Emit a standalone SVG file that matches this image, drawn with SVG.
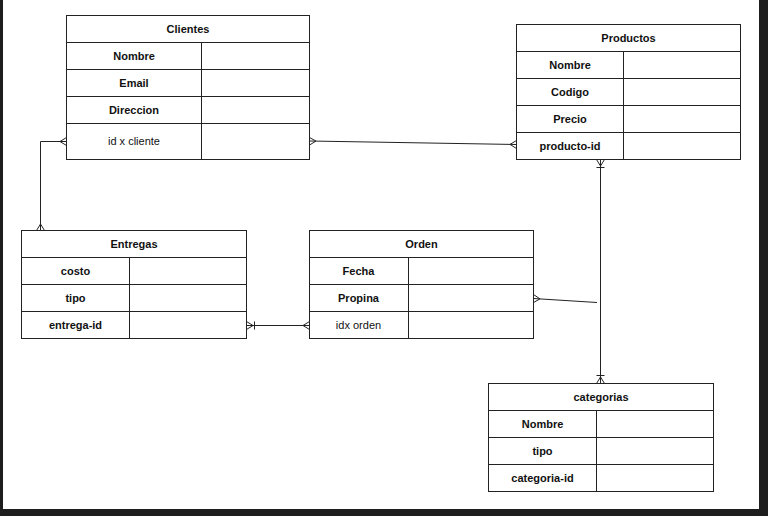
<svg xmlns="http://www.w3.org/2000/svg" width="768" height="516" viewBox="0 0 768 516">
<style>
.box{fill:#fff;stroke:#222;stroke-width:1}
.ln{fill:none;stroke:#222;stroke-width:1}
.t{font-family:"Liberation Sans",Arial,sans-serif;font-size:11px;fill:#111;text-anchor:middle}
.b{font-weight:bold}
</style>
<rect x="0" y="0" width="768" height="516" fill="#fff"/>
<rect x="0" y="0" width="3" height="516" fill="#1e1e1e"/>
<rect x="759" y="0" width="9" height="516" fill="#1e1e1e"/>
<rect x="0" y="509" width="768" height="7" fill="#1e1e1e"/>

<g id="clientes">
<rect class="box" x="66.5" y="15.5" width="243" height="144"/>
<path class="ln" d="M66.5 42.5H309.5M66.5 69.5H309.5M66.5 96.5H309.5M66.5 123.5H309.5M201.5 42.5V159.5"/>
<text class="t b" x="188" y="32.5">Clientes</text>
<text class="t b" x="134" y="59.5">Nombre</text>
<text class="t b" x="134" y="86.5">Email</text>
<text class="t b" x="134" y="113.5">Direccion</text>
<text class="t" x="134" y="145">id x cliente</text>
</g>

<g id="productos">
<rect class="box" x="516.5" y="24.5" width="224" height="135"/>
<path class="ln" d="M516.5 51.5H740.5M516.5 78.5H740.5M516.5 105.5H740.5M516.5 132.5H740.5M623.5 51.5V159.5"/>
<text class="t b" x="628.5" y="41.5">Productos</text>
<text class="t b" x="570" y="68.5">Nombre</text>
<text class="t b" x="570" y="95.5">Codigo</text>
<text class="t b" x="570" y="122.5">Precio</text>
<text class="t b" x="570" y="149.5">producto-id</text>
</g>

<g id="entregas">
<rect class="box" x="21.5" y="230.5" width="225" height="108"/>
<path class="ln" d="M21.5 257.5H246.5M21.5 284.5H246.5M21.5 311.5H246.5M129.5 257.5V338.5"/>
<text class="t b" x="134" y="247.5">Entregas</text>
<text class="t b" x="75.5" y="274.5">costo</text>
<text class="t b" x="75.5" y="301.5">tipo</text>
<text class="t b" x="75.5" y="328.5">entrega-id</text>
</g>

<g id="orden">
<rect class="box" x="309.5" y="230.5" width="224" height="108"/>
<path class="ln" d="M309.5 257.5H533.5M309.5 284.5H533.5M309.5 311.5H533.5M408.5 257.5V338.5"/>
<text class="t b" x="421.5" y="247.5">Orden</text>
<text class="t b" x="358.5" y="274.5">Fecha</text>
<text class="t b" x="358.5" y="301.5">Propina</text>
<text class="t" x="358.5" y="328.5">idx orden</text>
</g>

<g id="categorias">
<rect class="box" x="488.5" y="383.5" width="225" height="108"/>
<path class="ln" d="M488.5 410.5H713.5M488.5 437.5H713.5M488.5 464.5H713.5M596.5 410.5V491.5"/>
<text class="t b" x="601" y="400.5">categorias</text>
<text class="t b" x="542.5" y="427.5">Nombre</text>
<text class="t b" x="542.5" y="454.5">tipo</text>
<text class="t b" x="542.5" y="481.5">categoria-id</text>
</g>

<g id="connectors">
<path class="ln" d="M66.5 141.5H40.5V230.5"/>
<path class="ln" d="M60 141.5L66.5 137.5M60 141.5L66.5 145.5"/>
<path class="ln" d="M40.5 224L36.5 230.5M40.5 224L44.5 230.5"/>

<path class="ln" d="M309.5 141L516.5 144.5"/>
<path class="ln" d="M316 141.1L309.5 137.5M316 141.1L309.5 145"/>
<path class="ln" d="M510 144.4L516.5 140.5M510 144.4L516.5 148.5"/>

<path class="ln" d="M600.5 159.5V383.5"/>
<path class="ln" d="M600.5 166L596.5 159.5M600.5 166L604.5 159.5M596.5 167.5H604.5"/>
<path class="ln" d="M600.5 377L596.5 383.5M600.5 377L604.5 383.5M596.5 375.5H604.5"/>

<path class="ln" d="M533.5 298.5L597 302.5"/>
<path class="ln" d="M540 298.9L533.5 294.5M540 298.9L533.5 302.5"/>

<path class="ln" d="M246.5 325.5H309.5"/>
<path class="ln" d="M253 325.5L246.5 321.5M253 325.5L246.5 329.5M254.5 321.5V329.5"/>
<path class="ln" d="M303 325.5L309.5 321.5M303 325.5L309.5 329.5"/>
</g>
</svg>
